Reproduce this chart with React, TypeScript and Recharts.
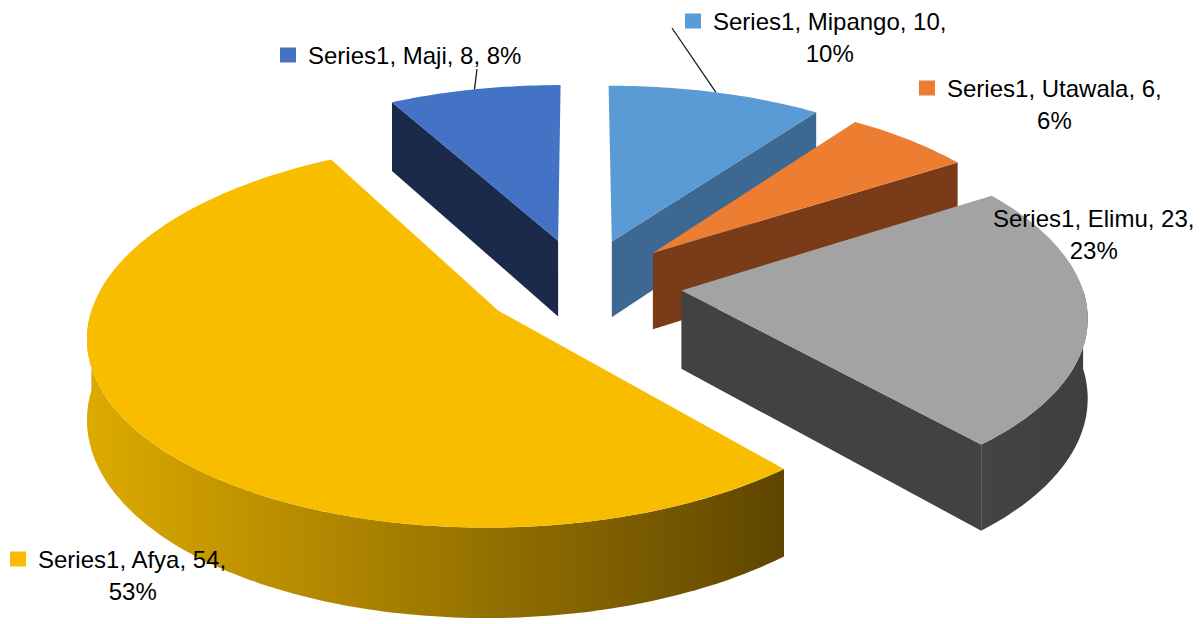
import { PieChart, Pie } from 'recharts';

// chart data
const SERIES_NAME = 'Series1';
const CATEGORIES = ['Mipango', 'Utawala', 'Elimu', 'Afya', 'Maji'];
const VALUES = [10, 6, 23, 54, 8];

const DATA = CATEGORIES.map((name, i) => ({ name, value: VALUES[i] }));

// look of the 3D slices
const TOP_COLORS = ['#5b9bd5', '#ed7d31', '#a3a3a3', '#f9bd00', '#4472c4'];
const SIDE_COLORS = ['#3c6891', '#7a3c18', '#424242', '#6a4f00', '#1b2a4b'];
const CURVE_COLORS: [string, string][] = [
  ['#3c6891', '#345c80'],
  ['#7a3c18', '#6a3414'],
  ['#444444', '#3f3f3f'],
  ['#dcaa00', '#5f4600'],
  ['#1b2a4b', '#16233f'],
];

const TILT = 0.46; // vertical squash of the disc
const PERSP = 0.12; // far side smaller
const EXPLODE = 0.25; // slice offset, fraction of radius
const DEPTH = 78; // thickness in px
const RAD = Math.PI / 180;

const FONT_SIZE = 24;
const FONT = '"Liberation Sans", Arial, sans-serif';

// label anchors: left of first line, centre of first line
const LABEL_POS: Record<string, { x: number; y: number; wrap: boolean; from?: [number, number] }> = {
  Maji: { x: 308, y: 55, wrap: false, from: [477, 69] },
  Mipango: { x: 713, y: 21, wrap: true, from: [672, 28] },
  Utawala: { x: 947, y: 88, wrap: true },
  Elimu: { x: 993, y: 218, wrap: true },
  Afya: { x: 38, y: 559, wrap: true },
};

let ctx: CanvasRenderingContext2D | null = null;
function textWidth(s: string) {
  if (!ctx) ctx = document.createElement('canvas').getContext('2d');
  if (!ctx) return s.length * FONT_SIZE * 0.5;
  ctx.font = `${FONT_SIZE}px "Liberation Sans"`;
  return ctx.measureText(s).width;
}

// angles clockwise from north, radians
function projector(cx: number, cy: number, r: number, mid: number) {
  const ox = Math.sin(mid) * EXPLODE;
  const oz = Math.cos(mid) * EXPLODE;
  return (a: number, k: number) => {
    const ux = ox + k * Math.sin(a);
    const uz = oz + k * Math.cos(a);
    const w = 1 + PERSP * uz;
    return { x: cx + (r * ux) / w, y: cy - (r * TILT * uz) / w, d: DEPTH / w };
  };
}

function sliceAngles(props: any) {
  let a1 = (90 - props.startAngle) * RAD;
  let a2 = (90 - props.endAngle) * RAD;
  if (a1 > a2) [a1, a2] = [a2, a1];
  return { a1, a2, mid: (a1 + a2) / 2 };
}

const pt = (p: { x: number; y: number }) => `${p.x.toFixed(1)},${p.y.toFixed(1)}`;

function renderSlice(props: any) {
  const { cx, cy, outerRadius, index } = props;
  const { a1, a2, mid } = sliceAngles(props);
  const P = projector(cx, cy, outerRadius, mid);
  const tip = P(0, 0);

  const arc = (from: number, to: number) => {
    const n = Math.max(2, Math.ceil((to - from) / RAD));
    const out = [];
    for (let i = 0; i <= n; i++) out.push(P(from + ((to - from) * i) / n, 1));
    return out;
  };

  const top = arc(a1, a2);
  const topPath = `M${pt(tip)} L${top.map(pt).join(' L')} Z`;

  const face = (a: number) => {
    const e = P(a, 1);
    return `M${pt(tip)} L${pt(e)} L${e.x.toFixed(1)},${(e.y + e.d).toFixed(1)} L${tip.x.toFixed(1)},${(tip.y + tip.d).toFixed(1)} Z`;
  };

  const faces: string[] = [];
  if (Math.sin(a1) < -1e-6) faces.push(face(a1));
  if (Math.sin(a2) > 1e-6) faces.push(face(a2));

  let curve: string | null = null;
  let gx1 = 0;
  let gx2 = 1;
  const c1 = Math.max(a1, 90 * RAD);
  const c2 = Math.min(a2, 270 * RAD);
  if (c2 > c1) {
    const upper = arc(c1, c2);
    const lower = upper.map((p) => ({ x: p.x, y: p.y + p.d })).reverse();
    curve = `M${upper.map(pt).join(' L')} L${lower.map(pt).join(' L')} Z`;
    const xs = upper.map((p) => p.x);
    gx1 = Math.min(...xs);
    gx2 = Math.max(...xs);
  }

  const gid = `curve-grad-${index}`;
  return (
    <g key={`slice-${index}`}>
      {curve && (
        <defs>
          <linearGradient id={gid} gradientUnits="userSpaceOnUse" x1={gx1} y1={0} x2={gx2} y2={0}>
            <stop offset="0%" stopColor={CURVE_COLORS[index][0]} />
            <stop offset="100%" stopColor={CURVE_COLORS[index][1]} />
          </linearGradient>
        </defs>
      )}
      {faces.map((d, i) => (
        <path key={i} d={d} fill={SIDE_COLORS[index]} />
      ))}
      {curve && <path d={curve} fill={`url(#${gid})`} />}
      <path d={topPath} fill={TOP_COLORS[index]} />
    </g>
  );
}

function renderLabel(props: any) {
  const { cx, cy, outerRadius, index, percent } = props;
  const name = CATEGORIES[index];
  const value = VALUES[index];
  const pos = LABEL_POS[name];
  const pct = `${Math.round(percent * 100)}%`;
  const line1 = pos.wrap ? `${SERIES_NAME}, ${name}, ${value},` : `${SERIES_NAME}, ${name}, ${value}, ${pct}`;
  const w = textWidth(line1);

  let leader = null;
  if (pos.from) {
    const { mid } = sliceAngles(props);
    const end = projector(cx, cy, outerRadius, mid)(mid, 1);
    leader = <line x1={pos.from[0]} y1={pos.from[1]} x2={end.x} y2={end.y} stroke="#1a1a1a" strokeWidth={1.3} />;
  }

  return (
    <g key={`label-${index}`}>
      {leader}
      <rect x={pos.x - 28} y={pos.y - 7.5} width={16} height={15} fill={TOP_COLORS[index]} />
      <text x={pos.x} y={pos.y} dominantBaseline="central" fontFamily={FONT} fontSize={FONT_SIZE} fill="#000">
        {line1}
      </text>
      {pos.wrap && (
        <text x={pos.x + w / 2} y={pos.y + 32} textAnchor="middle" dominantBaseline="central" fontFamily={FONT} fontSize={FONT_SIZE} fill="#000">
          {pct}
        </text>
      )}
    </g>
  );
}

export default function App() {
  return (
    <div style={{ position: 'absolute', left: 0, top: 0, width: 1201, height: 624, background: '#fff' }}>
      <PieChart width={1201} height={624} margin={{ top: 0, right: 0, bottom: 0, left: 0 }}>
        <Pie
          data={DATA}
          dataKey="value"
          nameKey="name"
          cx={582}
          cy={284}
          outerRadius={400}
          startAngle={90}
          endAngle={-270}
          fill="none"
          stroke="none"
          label={renderSlice}
          labelLine={false}
          isAnimationActive={false}
        />
        <Pie
          data={DATA}
          dataKey="value"
          nameKey="name"
          cx={582}
          cy={284}
          outerRadius={400}
          startAngle={90}
          endAngle={-270}
          fill="none"
          stroke="none"
          label={renderLabel}
          labelLine={false}
          isAnimationActive={false}
        />
      </PieChart>
    </div>
  );
}
